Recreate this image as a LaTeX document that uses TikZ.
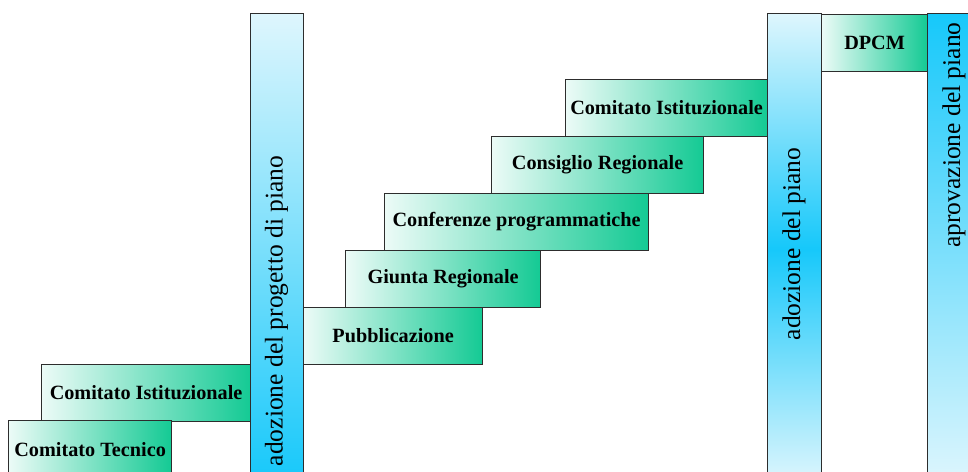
\documentclass[tikz,border=0pt]{standalone}
\usepackage{fontspec}
\setmainfont{Liberation Serif}
\definecolor{boxL}{RGB}{236,251,247}
\definecolor{boxR}{RGB}{20,202,148}
\definecolor{barL}{RGB}{222,246,253}
\definecolor{barS}{RGB}{22,200,250}
\definecolor{edge}{RGB}{45,45,45}
\tikzset{
  stepbox/.style={draw=edge, line width=1.2bp, left color=boxL, right color=boxR,
    anchor=north west, inner sep=0pt, minimum height=57bp,
    font=\fontsize{20.3}{23}\selectfont\bfseries, text=black},
  barbox/.style={draw=edge, line width=1.2bp, anchor=north west, inner sep=0pt,
    minimum width=53.5bp, minimum height=470bp},
  bartext/.style={rotate=90, inner sep=0pt, font=\fontsize{25.6}{28}\selectfont, text=black}
}
\begin{document}
\begin{tikzpicture}[x=1bp,y=-1bp]
\useasboundingbox (0,0) rectangle (968,472);
\fill[white] (0,0) rectangle (968,472);
% lower steps
\node[stepbox, minimum width=209bp] (ci1) at (41,364) {Comitato Istituzionale};
\node[stepbox, minimum width=163bp, minimum height=58bp] (ct) at (8,420) {Comitato Tecnico};
% middle steps
\node[stepbox, minimum width=264bp] (conf) at (384,193) {Conferenze programmatiche};
\node[stepbox, minimum width=195bp] (giunta) at (345,250) {Giunta Regionale};
\node[stepbox, minimum width=179bp] (pub) at (303,307) {Pubblicazione};
\node[stepbox, minimum width=212bp] (cons) at (491,136) {Consiglio Regionale};
\node[stepbox, minimum width=202bp] (ci2) at (565,79) {Comitato Istituzionale};
\node[stepbox, minimum width=106bp] (dpcm) at (821,14) {DPCM};
% bars
\node[barbox, top color=barL, bottom color=barS] (bar1) at (249.5,13) {};
\node[bartext] (t1) at (276.5,311) {adozione del progetto di piano};
\node[barbox, top color=barL, bottom color=barL, middle color=barS] (bar2) at (767,13) {};
\node[bartext] (t2) at (794,244) {adozione del piano};
\node[barbox, minimum width=60bp, top color=barS, bottom color=barL] (bar3) at (927,13) {};
\node[bartext] (t3) at (954,135) {aprovazione del piano};
\end{tikzpicture}
\end{document}
